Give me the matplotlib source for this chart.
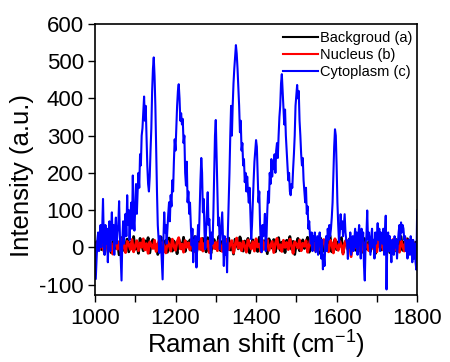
import numpy as np
import matplotlib
matplotlib.use('Agg')
import matplotlib.pyplot as plt
from matplotlib.ticker import MultipleLocator

# Raman spectra
# cytoplasm (blue): 2 cm-1 steps from 1000 to 1800
cytoplasm = [
    10, -85, -30, 20, 40, -10, 30, 60, 0, 50,           # 1000
    130, 20, -20, 60, 10, 50, -40, 30, 70, -10,         # 1020
    40, 94, 20, 60, -20, 50, 80, 10, 40, 60,            # 1040
    124, 30, -30, -89, 20, 70, 10, 50, 90, 30,          # 1060
    140, 60, 100, 20, 80, 120, 50, 193, 80, 45,         # 1080
    110, 170, 90, 150, 200, 160, 250, 220, 300, 320,    # 1100
    360, 405, 340, 380, 300, 220, 170, 150, 190, 260,   # 1120
    320, 420, 480, 510, 460, 380, 260, 150, 60, 22,     # 1140
    -15, 30, 10, -40, -86, 20, 94, 40, 60, 10,          # 1160
    50, 90, 121, 70, 140, 110, 180, 150, 230, 290,      # 1180
    260, 320, 380, 420, 438, 400, 340, 360, 330, 345,   # 1200
    280, 300, 200, 166, 230, 121, 150, 90, 120, 60,     # 1220
    5, 50, -40, 20, -10, 30, -54, 0, 60, 20,            # 1240
    100, 180, 240, 200, 94, 130, 40, -5, 50, 100,       # 1260
    148, 60, 76, 20, -31, 40, 10, 90, 200, 300,         # 1280
    342, 250, 160, 59, 80, -5, 30, 60, 94, 20,          # 1300
    -50, 30, -20, 10, -67, 40, 120, 200, 300, 380,      # 1320
    300, 380, 440, 480, 510, 543, 520, 480, 430, 380,   # 1340
    309, 340, 260, 280, 220, 237, 175, 200, 150, 190,   # 1360
    150, 120, 160, 94, 22, 60, 120, 180, 230, 260,      # 1380
    288, 270, 200, 121, 150, 60, 5, -13, 60, 30,        # 1400
    50, 90, -10, 30, 100, 150, 120, 200, 170, 237,      # 1420
    190, 230, 210, 250, 200, 260, 280, 240, 300, 350,   # 1440
    380, 440, 465, 420, 380, 330, 370, 300, 260, 220,   # 1460
    180, 200, 150, 140, 170, 160, 210, 250, 300, 380,   # 1480
    410, 436, 400, 420, 340, 300, 250, 220, 240, 180,   # 1500
    150, 121, 160, 90, 110, 50, 70, 30, 10, 40,         # 1520
    -10, 30, 20, 40, -13, 10, 30, -20, 20, 40,          # 1540
    10, -30, 20, -59, -20, -50, 10, 30, -10, 50,        # 1560
    20, 60, 30, 50, 80, 120, 200, 270, 317, 300,        # 1580
    220, 121, 60, 13, 40, 89, 50, 70, 30, 60,           # 1600
    89, 40, 20, 10, -31, 20, 0, 40, -20, 10,            # 1620
    30, -10, 20, 50, 0, 40, -20, 30, 60, 10,            # 1640
    -30, 50, 20, 40, -50, -89, 10, 30, 99, 20,          # 1660
    40, 10, -20, 30, 50, 0, 20, -30, 40, 10,            # 1680
    30, 65, 20, 50, -10, 40, 30, 10, 50, -20,           # 1700
    30, 85, -113, 20, 40, -10, 30, 0, -40, 20,          # 1720
    10, -20, 30, 0, 20, -30, 10, 40, 60, 20,            # 1740
    67, 40, 60, 50, 20, 30, -10, 20, -30, 10,           # 1760
    20, -20, 30, 0, -40, 20, -30, 10, -40, -60,         # 1780
    99,
]

# background (black) and nucleus (red): 4 cm-1 steps
background = [
    -10, 15, 2, 28, -6, 12, -18, 20, 4, 30,
    -14, 8, 25, -3, 16, -20, 10, 27, -8, 5,
    22, -12, 14, 0, 29, -5, 9, -16, 24, 6,
    -9, 18, 3, 26, -15, 11, 21, -2, 7, -19,
    13, 28, -7, 4, 19, -13, 25, 1, -10, 17,
    6, -17, 23, 10, -4, 27, -11, 15, 3, 20,
    -8, 12, 29, -14, 5, 18, -6, 24, 9, -12,
    26, 0, -16, 14, 21, -3, 8, 30, -9, 16,
    2, -13, 19, 25, -7, 11, -18, 22, 6, -4,
    28, 13, -10, 17, 3, 24, -15, 9, 20, -1,
    15, -11, 27, 5, -6, 18, 12, -17, 23, 7,
    -2, 21, -12, 10, 26, -8, 14, 1, -14, 19,
    8, 29, -5, 16, -19, 11, 24, -9, 4, 20,
    -3, 13, 27, -13, 6, 22, -7, 17, 10, -16,
    25, 2, -10, 18, 12, -4, 30, -12, 7, 21,
    -6, 15, 3, 26, -15, 9, 19, -2, 23, -9,
    11, 28, -8, 14, 0, 20, -13, 24, 5, -5,
    17, -11, 22, 8, -17, 27, 4, 13, -7, 18,
    -1, 25, 10, -14, 16, 6, -10, 21, 12, -4,
    29, -8, 15, 2, 23, -12, 9, 19, -6, 14,
    5,
]

nucleus = [
    5, -12, 18, -4, 22, 0, -15, 10, 25, -8,
    12, -18, 6, 20, -5, 14, -10, 24, 2, -14,
    16, 8, -6, 21, -12, 4, 18, -9, 12, 0,
    23, -7, 10, -16, 15, 5, -3, 19, -11, 8,
    20, -6, 13, 1, -15, 17, 7, -10, 22, 3,
    -8, 15, 26, -4, 9, -13, 18, 0, 12, -7,
    21, 4, -12, 16, 8, -5, 24, -10, 11, 2,
    17, -14, 6, 20, -3, 13, -9, 19, 5, -11,
    14, 0, 22, -6, 10, 18, -15, 7, 25, -2,
    12, -9, 16, 3, -13, 20, 6, -4, 15, -10,
    23, 1, 9, -12, 18, -5, 14, 21, -8, 4,
    16, -14, 10, 24, -3, 7, -11, 19, 0, 13,
    -6, 22, 5, -16, 15, 9, -2, 20, -9, 11,
    3, 18, -13, 8, 25, -5, 12, -10, 17, 1,
    -7, 14, 21, -4, 6, -12, 19, 10, -15, 23,
    2, -8, 16, 5, -18, 12, 20, -6, 9, -25,
    15, -3, 22, 0, -10, 18, 7, -14, 13, 4,
    -9, 20, 11, -5, 16, -12, 24, 1, 8, -7,
    19, -11, 6, 14, -4, 21, -8, 10, 3, -13,
    17, 5, -10, 23, -2, 12, -15, 18, 7, -6,
    10,
]

shift_fine = np.arange(1000, 1801, 2)
shift_coarse = np.arange(1000, 1801, 4)

plt.rcParams['font.family'] = ['Liberation Sans', 'DejaVu Sans']
plt.rcParams['axes.unicode_minus'] = False
plt.rcParams['mathtext.default'] = 'regular'

fig = plt.figure(figsize=(4.5, 3.62), dpi=100)
ax = fig.add_axes([0.211, 0.185, 0.716, 0.749])

ax.plot(shift_coarse, background, color='black', lw=2.0, label='Backgroud (a)')
ax.plot(shift_coarse, nucleus, color='red', lw=2.0, label='Nucleus (b)')
ax.plot(shift_fine, cytoplasm, color='#0000ff', lw=1.5, label='Cytoplasm (c)')

ax.set_xlim(1000, 1800)
ax.set_ylim(-128, 600)
ax.xaxis.set_major_locator(MultipleLocator(200))
ax.xaxis.set_minor_locator(MultipleLocator(100))
ax.yaxis.set_major_locator(MultipleLocator(100))

ax.tick_params(which='both', direction='out', length=5, width=1, labelsize=16,
               top=False, right=False)
ax.tick_params(axis='x', pad=4)
ax.tick_params(axis='y', pad=3)
for s in ax.spines.values():
    s.set_linewidth(1.2)

ax.set_xlabel('Raman shift (cm$^{-1}$)', fontsize=18.5)
ax.set_ylabel('Intensity (a.u.)', fontsize=18.5)
ax.xaxis.set_label_coords(0.5, -0.125)
ax.yaxis.set_label_coords(-0.19, 0.44)

leg = ax.legend(loc='upper right', bbox_to_anchor=(1.0, 0.99), frameon=False,
                fontsize=10.5, handlelength=2.4, handletextpad=0.15,
                labelspacing=0.22, borderaxespad=0.1, borderpad=0.2)
for line in leg.get_lines():
    line.set_linewidth(1.5)

fig.savefig('out.png', dpi=100)
